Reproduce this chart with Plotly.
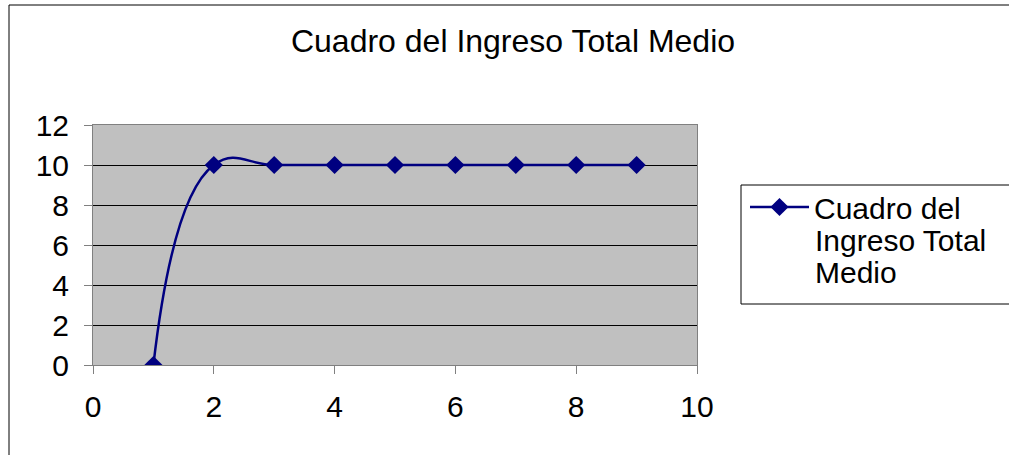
import plotly.graph_objects as go

# data
periodos = [1, 2, 3, 4, 5, 6, 7, 8, 9]
ingreso_medio = [0, 10, 10, 10, 10, 10, 10, 10, 10]
serie_lineas = ["Cuadro del", "Ingreso Total", "Medio"]
titulo = "Cuadro del Ingreso Total Medio"

W, H = 1009, 455
L, R, T, B = 93, 312, 125, 90
pw, ph = W - L - R, H - T - B


def px(x):
    return (x - L) / pw


def py(y):
    return (H - B - y) / ph


fig = go.Figure()
fig.add_trace(go.Scatter(
    x=periodos, y=ingreso_medio, mode="lines+markers",
    line=dict(color="#000080", width=2.5, shape="spline", smoothing=1.3),
    marker=dict(symbol="diamond", size=14, color="#000080"),
    name=serie_lineas[0],
    hovertemplate=" ".join(serie_lineas) + ": %{y}<extra></extra>",
))

# outer chart border
fig.add_shape(type="rect", xref="paper", yref="paper",
              x0=px(9), x1=px(1015), y0=py(5), y1=py(462),
              line=dict(color="black", width=1), layer="below")
# legend border
fig.add_shape(type="rect", xref="paper", yref="paper",
              x0=px(741), x1=px(1015), y0=py(185), y1=py(304),
              line=dict(color="black", width=1))

# remaining lines of the wrapped legend label (Excel-style tight spacing)
for i, txt in enumerate(serie_lineas[1:], start=1):
    fig.add_annotation(text=txt, xref="paper", yref="paper",
                       x=px(813), y=py(208 + 32 * i), xanchor="left",
                       yanchor="middle", showarrow=False,
                       font=dict(size=30, color="black"))

fig.update_xaxes(
    range=[0, 10], dtick=2, showgrid=False, zeroline=False,
    showline=True, linecolor="#808080", linewidth=1, mirror=True,
    ticks="outside", ticklen=8, tickcolor="#808080",
    tickfont=dict(size=30, color="black"), ticklabelstandoff=7,
)
fig.update_yaxes(
    range=[0, 12], dtick=2, showgrid=True, gridcolor="black", gridwidth=1,
    zeroline=False, showline=True, linecolor="#808080", linewidth=1, mirror=True,
    ticks="outside", ticklen=8, tickcolor="#808080",
    tickfont=dict(size=30, color="black"), ticklabelstandoff=9,
)

fig.update_layout(
    width=W, height=H,
    margin=dict(l=L, r=R, t=T, b=B),
    paper_bgcolor="white", plot_bgcolor="#C0C0C0",
    font=dict(family="Liberation Sans, Arial", color="black"),
    title=dict(text=titulo, x=513 / W, y=1 - 41 / H, xanchor="center",
               yanchor="middle", font=dict(size=32, color="black")),
    showlegend=True,
    legend=dict(x=px(745), y=py(181), xanchor="left", yanchor="top",
                bgcolor="rgba(0,0,0,0)", borderwidth=0, itemwidth=59,
                font=dict(size=30, color="black"), valign="middle"),
)

fig.write_html("out.html", config={"displayModeBar": False},
               post_script="document.body.style.margin='0';")
